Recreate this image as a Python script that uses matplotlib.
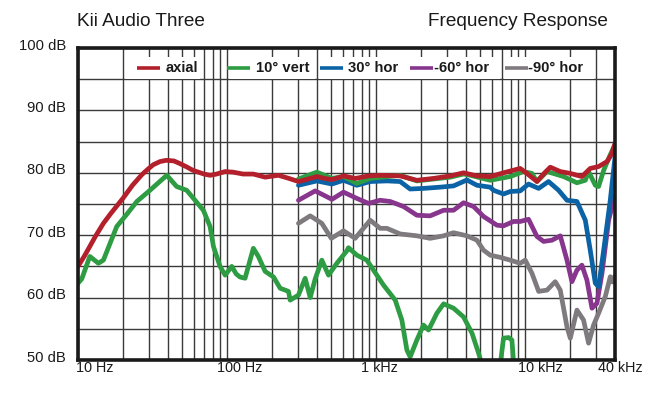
import numpy as np
import matplotlib
matplotlib.use("Agg")
import matplotlib.pyplot as plt
from matplotlib.patches import Rectangle
import matplotlib.transforms as mtransforms

plt.rcParams['font.family'] = ['Liberation Sans', 'DejaVu Sans']

# ---------------- data ----------------
title_left = "Kii Audio Three"
title_right = "Frequency Response"
series_names = ["axial", "10° vert", "30° hor", "-60° hor", "-90° hor"]
series_colors = ["#b3202b", "#2e9c43", "#0b63a5", "#87358d", "#7e7a7e"]
x_tick_values = [10, 100, 1000, 10000, 40000]
x_tick_labels = ["10 Hz", "100 Hz", "1 kHz", "10 kHz", "40 kHz"]
y_tick_values = [50, 60, 70, 80, 90, 100]
y_tick_labels = ["50 dB", "60 dB", "70 dB", "80 dB", "90 dB", "100 dB"]

axial_freq = [10, 11, 12, 13, 14.8, 16.5, 20, 23.2, 26.8, 29.5, 32, 35.5, 39, 44, 48, 53,
              59, 70, 77, 85, 97, 110, 128, 150,
              180, 221, 260, 301, 350, 400, 450, 505, 604, 723, 888, 1064, 1449,
              1875, 2425, 3138, 3857, 4742, 5823, 7149, 9250, 10260, 11980, 13500,
              14720, 17180, 20050, 23990, 27290, 31050, 35350, 38000, 40000]
axial_db = [65.0, 66.6, 68.2, 69.7, 71.9, 73.4, 75.9, 78.0, 79.7, 80.6, 81.3, 81.8, 82.0,
            81.9, 81.5, 81.0, 80.4, 79.8, 79.6, 79.8, 80.2,
            80.1, 79.8, 79.8, 79.3, 79.6, 79.1, 78.6, 79.0, 79.4, 79.1, 78.9, 79.5,
            79.1, 79.5, 79.6, 79.5, 78.8, 79.1, 79.5, 80.0, 79.5, 79.4, 80.0, 80.7,
            79.9, 78.6, 80.0, 80.9, 80.2, 79.9, 79.4, 80.7, 81.0, 81.8, 83.0, 84.7]

vert10_low_freq = [10, 10.6, 12, 13.7, 14.8, 18.2, 21, 24.8, 30.4, 39.4, 45.9, 53.6,
                   69.3, 76.9, 81, 89.7, 97, 107.5, 115, 122, 132, 150, 162, 180,
                   205, 227, 258, 265, 301, 334, 361, 390, 432, 479, 545, 636, 652,
                   742, 866, 1064, 1120, 1342, 1487, 1607, 1690, 1875, 2077, 2244,
                   2555, 2833, 3304, 3857, 4393, 4864, 5300,
                   np.nan, 6700, 7149, 7727, 8140, 8450]
vert10_low_db = [62.3, 63.0, 66.6, 65.5, 66.0, 71.4, 73.2, 75.4, 77.2, 79.6, 77.8, 77.2,
                 74.0, 71.4, 68.2, 65.0, 63.6, 65.0, 63.8, 63.3, 63.1, 67.9, 66.6, 64.2,
                 63.3, 61.5, 61.0, 59.6, 60.4, 63.1, 60.0, 63.0, 66.0, 63.6, 65.5, 67.5,
                 68.0, 66.8, 66.0, 62.8, 62.0, 59.6, 56.4, 51.6, 50.5, 53.2, 55.6, 54.8,
                 57.5, 59.0, 58.3, 56.9, 54.3, 51.1, 48.0,
                 np.nan, 48.0, 53.5, 53.6, 53.2, 48.0]

vert10_freq = [301, 350, 400, 450, 505, 604, 742, 912, 1449, 1875, 2425, 3138, 3857,
               4277, 5823, 7929, 9741, 11090, 11980, 13990, 18080, 22220, 25290, 26600,
               29510, 31050, 33580, 37180, 40000]
vert10_db = [79.0, 79.6, 80.1, 79.6, 79.1, 79.4, 78.3, 79.1, 79.6, 78.7, 79.0, 79.3, 79.8,
             79.6, 78.8, 79.4, 80.2, 79.9, 78.6, 80.2, 79.4, 78.4, 78.8, 80.2, 78.0, 77.8,
             80.4, 82.9, 84.5]

hor30_freq = [301, 400, 505, 604, 742, 912, 1180, 1449, 1690, 2077, 2690, 3304, 4063,
              4742, 5823, 6127, 7149, 7929, 9250, 10520, 12300, 14330, 16740, 19050,
              22220, 25290, 27290, 29510, 31050, 33580, 37180, 40000]
hor30_db = [78.0, 78.7, 78.2, 78.8, 78.0, 78.6, 78.7, 78.6, 77.4, 77.5, 77.7, 77.9, 78.85,
            78.0, 77.7, 77.2, 76.6, 77.0, 77.1, 78.2, 77.5, 78.6, 77.2, 75.6, 75.4, 72.4,
            67.6, 62.3, 61.75, 67.6, 75.6, 82.5]

hor60_freq = [301, 390, 505, 604, 742, 888, 1064, 1242, 1525, 1875, 2302, 2833, 3304,
              3857, 4500, 5253, 6459, 7149, 8344, 9250, 10520, 11980, 13280, 15100,
              17180, 19050, 20570, 22220, 23990, 25930, 28040, 30270, 32720, 36250, 40000]
hor60_db = [75.6, 77.1, 75.75, 76.9, 75.9, 75.1, 75.6, 75.4, 74.6, 73.2, 73.1, 74.0, 74.0,
            75.2, 74.6, 73.0, 71.6, 71.5, 72.2, 72.2, 72.55, 69.8, 69.0, 69.2, 69.9, 66.0,
            62.55, 64.4, 65.2, 62.8, 58.3, 59.1, 63.9, 72.4, 76.4]

hor90_freq = [301, 361, 432, 500, 604, 723, 912, 1064, 1180, 1449, 1875, 2302, 2833,
              3304, 4063, 4742, 5253, 5823, 6792, 7929, 9250, 10000, 11090, 12300,
              13990, 15890, 17180, 19050, 20050, 22220, 24610, 26600, 28730, 31050,
              34460, 37180, 38500, 40000]
hor90_db = [71.9, 73.1, 71.9, 69.5, 70.7, 69.5, 72.4, 71.1, 71.1, 70.2, 69.9, 69.5, 69.9,
            70.4, 69.9, 69.2, 67.6, 66.8, 66.45, 66.0, 65.5, 66.0, 63.9, 61.0, 61.2,
            62.55, 61.2, 55.3, 53.5, 58.0, 56.4, 52.7, 55.6, 57.5, 60.2, 63.35, 62.5, 63.5]

# ---------------- figure ----------------
W, H = 652, 398
fig = plt.figure(figsize=(W / 100, H / 100), dpi=100)
ax_l, ax_r, ax_t, ax_b = 78, 615, 48, 360
ax = fig.add_axes([ax_l / W, 1 - ax_b / H, (ax_r - ax_l) / W, (ax_b - ax_t) / H])
ax.set_xscale("log")
ax.set_xlim(10, 40000)
ax.set_ylim(50, 100)

# grid
ax.set_xticks(x_tick_values)
ax.set_xticks([m * d for d in [10, 100, 1000, 10000] for m in range(2, 10) if m * d < 40000],
              minor=True)
ax.set_yticks(y_tick_values)
ax.set_yticks(list(range(55, 100, 10)), minor=True)
ax.tick_params(which="both", length=0, labelbottom=False, labelleft=False)
ax.grid(True, which="both", color="#3a3a3a", linewidth=1.0, zorder=1)
ax.set_axisbelow(True)
for s in ax.spines.values():
    s.set_linewidth(2.6)
    s.set_color("#1a1a1a")
    s.set_zorder(20)

# tick labels
label_dx = [17, 13, 3.5, 15, 5]
for v, lab, dx in zip(x_tick_values, x_tick_labels, label_dx):
    tr = mtransforms.blended_transform_factory(ax.transData, ax.transAxes)
    tr = tr + mtransforms.ScaledTranslation(dx / 100, -8.5 / 100, fig.dpi_scale_trans)
    ax.text(v, 0, lab, transform=tr, ha="center", va="center", fontsize=10.4,
            color="#1a1a1a", clip_on=False)
for v, lab in zip(y_tick_values, y_tick_labels):
    tr = mtransforms.blended_transform_factory(ax.transAxes, ax.transData)
    tr = tr + mtransforms.ScaledTranslation(-12 / 100, 2.5 / 100, fig.dpi_scale_trans)
    ax.text(0, v, lab, transform=tr, ha="right", va="center", fontsize=10.6,
            color="#1a1a1a", clip_on=False)

# curves
lw = 3.4
kw = dict(linewidth=lw, solid_capstyle="round", solid_joinstyle="round")
ax.plot(hor90_freq, hor90_db, color=series_colors[4], zorder=3, **kw)
ax.plot(hor60_freq, hor60_db, color=series_colors[3], zorder=4, **kw)
ax.plot(vert10_low_freq, vert10_low_db, color=series_colors[1], zorder=5, **kw)
ax.plot(hor30_freq, hor30_db, color=series_colors[2], zorder=6, **kw)
ax.plot(vert10_freq, vert10_db, color=series_colors[1], zorder=7, **kw)
ax.plot(axial_freq, axial_db, color=series_colors[0], zorder=8, **kw)

# legend row (white boxes masking the grid, then handles + labels)
ax_w = ax_r - ax_l
trb = mtransforms.blended_transform_factory(ax.transAxes, ax.transData)
for x0, x1 in [(125, 200), (229, 315), (319, 500), (504, 594)]:
    ax.add_patch(Rectangle(((x0 - ax_l) / ax_w, 95.1), (x1 - x0) / ax_w, 3.5,
                           transform=trb, facecolor="white", edgecolor="none", zorder=9))
legend_y = 96.85
handle_x = [137, 227, 320, 410, 505]
text_gap = [6, 6, 5, 0.5, 0.5]
for name, col, hx, g in zip(series_names, series_colors, handle_x, text_gap):
    ax.plot([(hx - ax_l) / ax_w, (hx + 23 - ax_l) / ax_w], [legend_y, legend_y],
            transform=trb, color=col, linewidth=2.6, solid_capstyle="butt", zorder=10)
    ax.text((hx + 23 + g - ax_l) / ax_w, legend_y, name, transform=trb, ha="left",
            va="center", fontsize=10.6, fontweight="bold", color="#1a1a1a", zorder=10)

# titles
fig.text(77 / W, 1 - 22 / H, title_left, ha="left", va="center", fontsize=13.7,
         color="#1a1a1a")
fig.text(608 / W, 1 - 22 / H, title_right, ha="right", va="center", fontsize=13.7,
         color="#1a1a1a")

fig.savefig("out.png", dpi=100, facecolor="white")
